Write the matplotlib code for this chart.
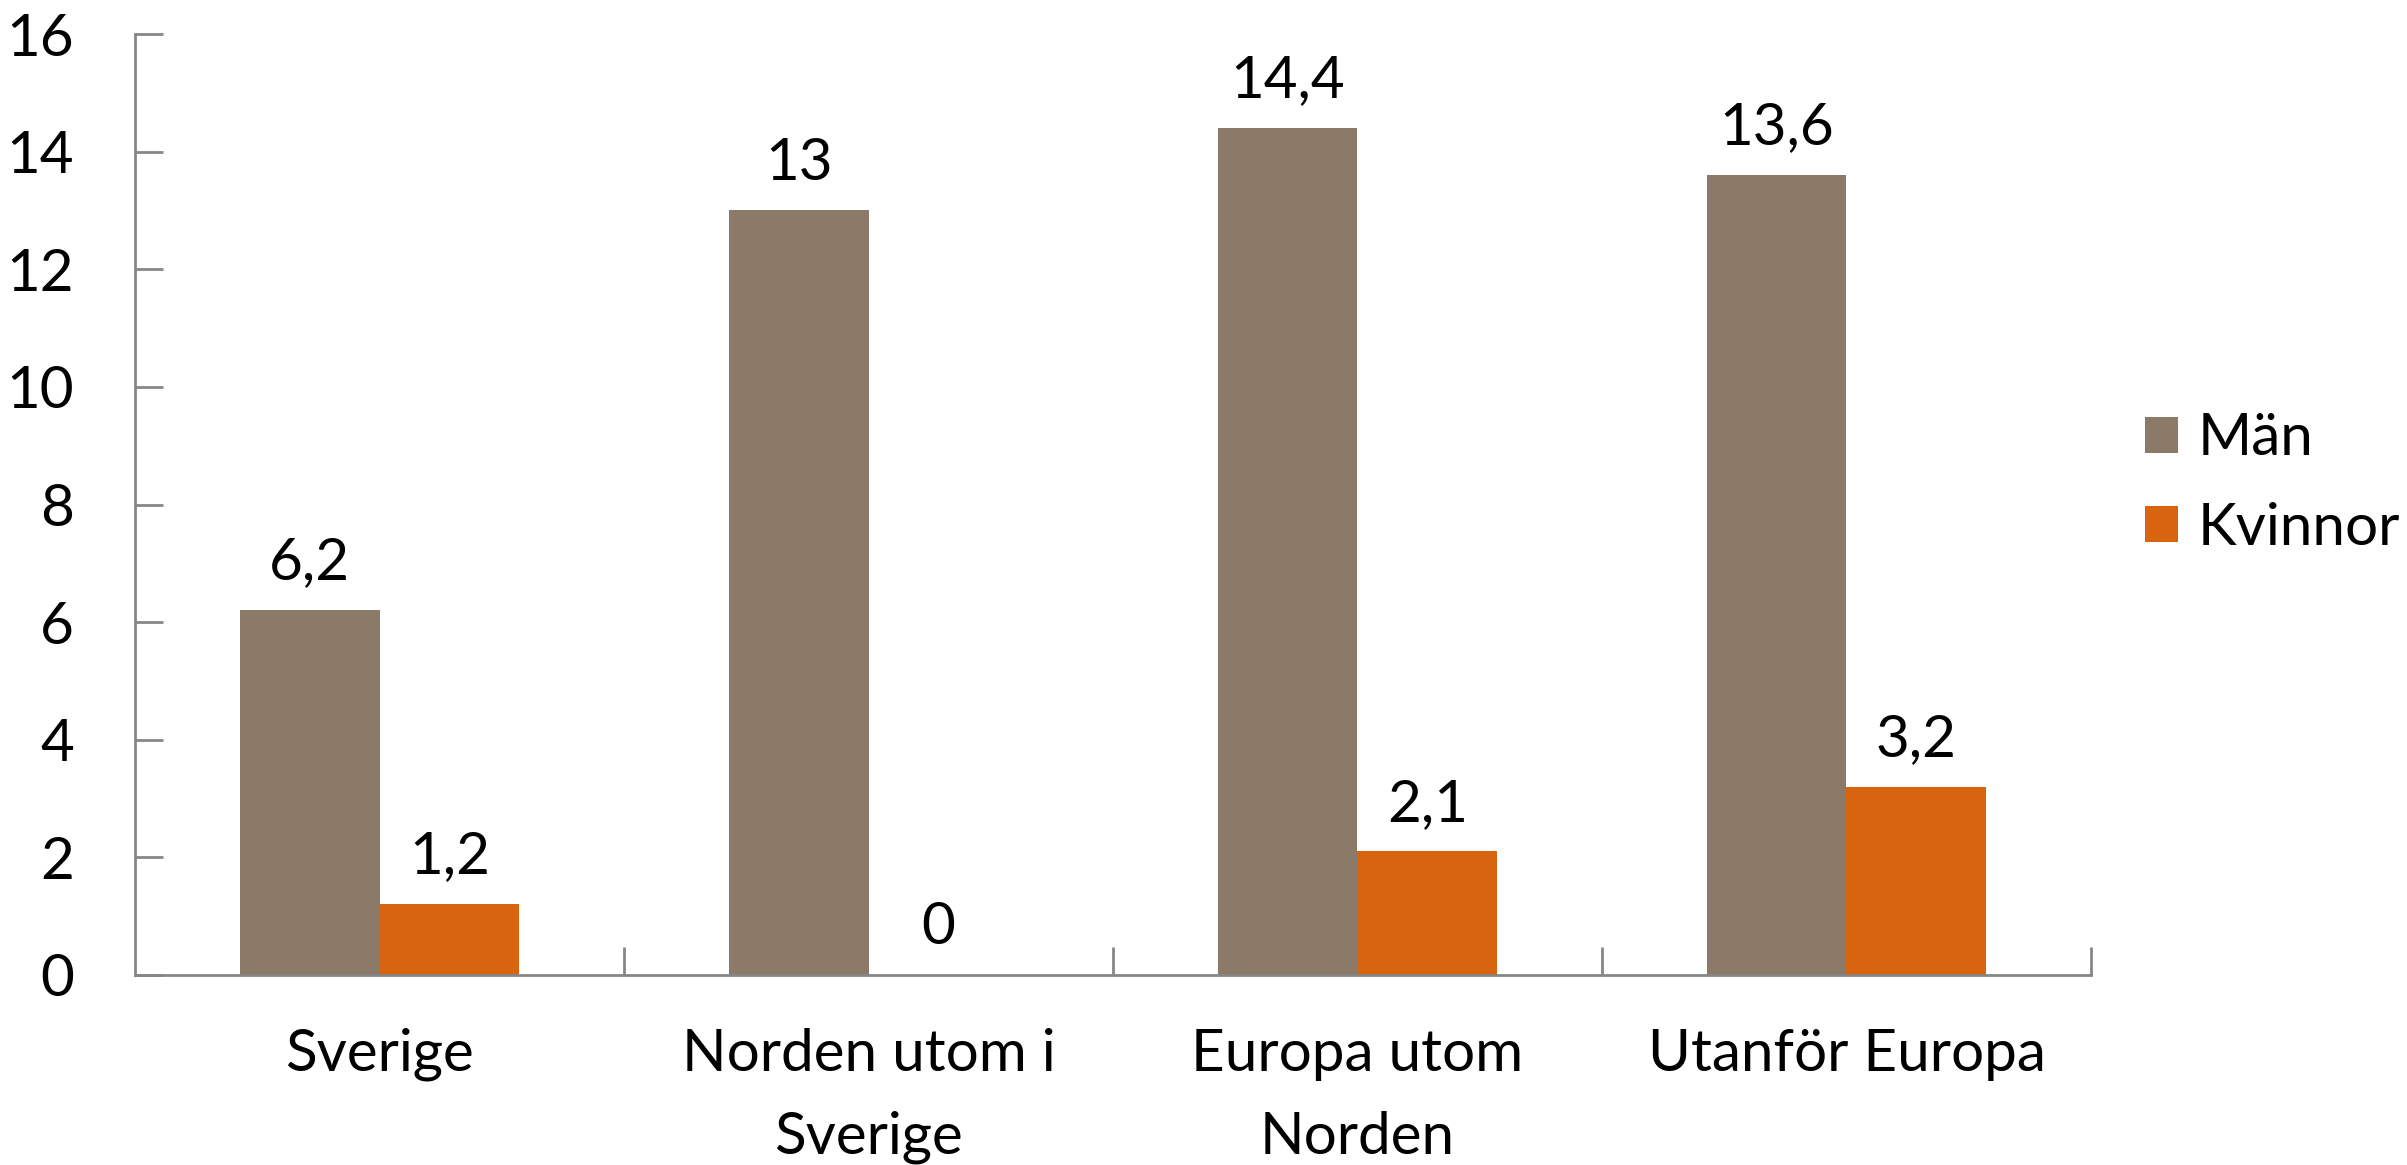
import numpy as np
import matplotlib.pyplot as plt
from matplotlib.ticker import FixedLocator, NullFormatter

# andel per födelseregion, procent
regioner = ["Sverige", "Norden utom i\nSverige", "Europa utom\nNorden", "Utanför Europa"]
man = [6.2, 13, 14.4, 13.6]
kvinnor = [1.2, 0, 2.1, 3.2]
serier = ["Män", "Kvinnor"]
yticks = [0, 2, 4, 6, 8, 10, 12, 14, 16]

plt.rcParams['font.family'] = ['Lato', 'DejaVu Sans']
axfarg = "#868686"
fs = 42

fig = plt.figure(figsize=(24.07, 11.65), dpi=100)
ax = fig.add_axes([0.0561, 0.1631, 0.8126, 0.8077])

x = np.arange(len(regioner))
w = 1 / 3.5
b1 = ax.bar(x - w / 2, man, width=w, color="#8B7A67", label=serier[0])
b2 = ax.bar(x + w / 2, kvinnor, width=w, color="#D9640F", label=serier[1])

def fmt(v):
    return f"{v:g}".replace(".", ",")

for bars, vals in ((b1, man), (b2, kvinnor)):
    for r, v in zip(bars, vals):
        ax.annotate(fmt(v), (r.get_x() + r.get_width() / 2, v),
                    xytext=(0, 15), textcoords="offset points",
                    ha="center", va="bottom", fontsize=fs)

ax.set_xlim(-0.5, len(regioner) - 0.5)
ax.set_ylim(0, 16)
ax.set_yticks(yticks)
ax.set_yticklabels([str(t) for t in yticks], fontsize=fs)
ax.tick_params(axis="y", direction="in", length=20, width=2, color=axfarg, pad=44)

# kategorietiketter utan streck, streck mellan grupperna
ax.set_xticks(x)
ax.set_xticklabels(regioner, fontsize=fs, linespacing=1.7)
ax.tick_params(axis="x", which="major", length=0, pad=38)
ax.xaxis.set_minor_locator(FixedLocator(np.arange(0.5, len(regioner), 1.0)))
ax.xaxis.set_minor_formatter(NullFormatter())
ax.tick_params(axis="x", which="minor", direction="in", length=20, width=2, color=axfarg)

for s in ("top", "right"):
    ax.spines[s].set_visible(False)
for s in ("left", "bottom"):
    ax.spines[s].set_color(axfarg)
    ax.spines[s].set_linewidth(2)

fig.legend(handles=[b1, b2], loc="center left", bbox_to_anchor=(0.891, 0.585),
           frameon=False, fontsize=fs, handlelength=0.58, handleheight=0.58,
           handletextpad=0.32, labelspacing=0.62, borderaxespad=0, borderpad=0)

fig.savefig("out.png", dpi=100)
